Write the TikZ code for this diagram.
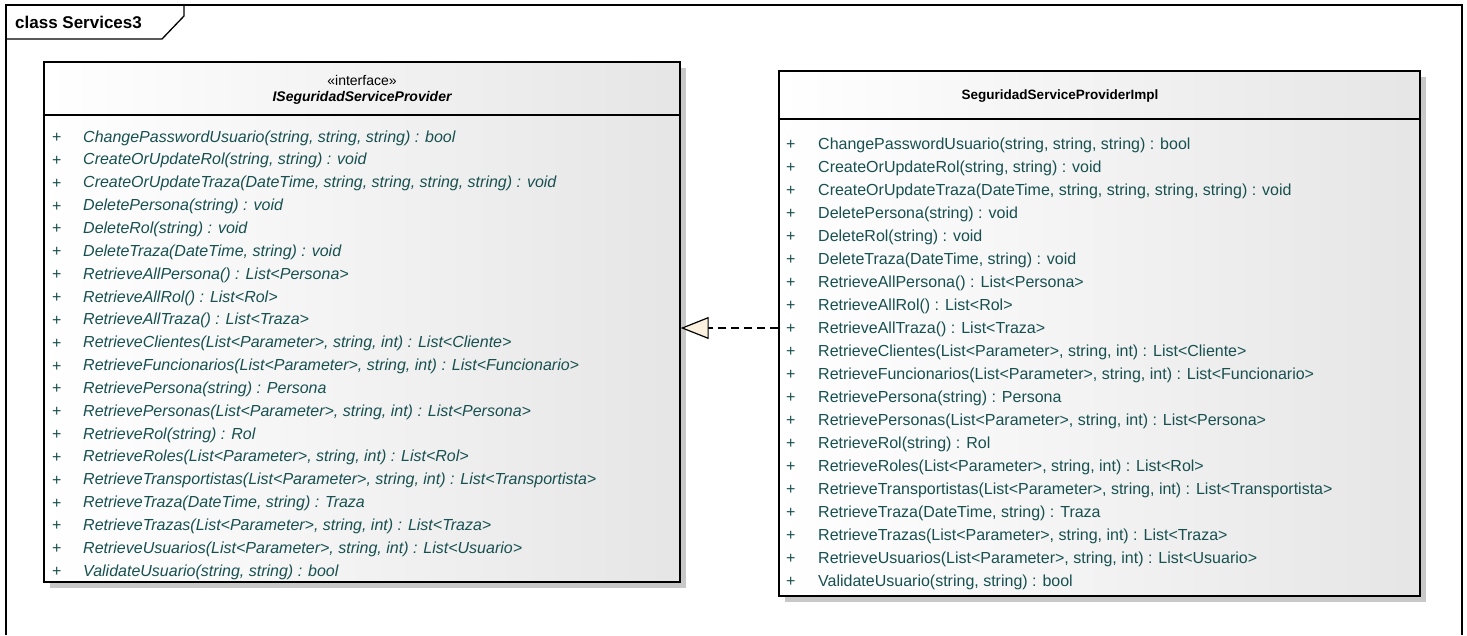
\documentclass[tikz,border=0pt]{standalone}
\usepackage{fontspec}
\setmainfont{Liberation Sans}
\usepackage{xcolor}
\usetikzlibrary{positioning, arrows.meta}

\definecolor{optext}{RGB}{24,80,80}
\definecolor{realizefill}{RGB}{251,241,222}
\definecolor{shadowgray}{RGB}{200,200,200}

\newcommand{\opslist}{%
  {ChangePasswordUsuario(string, string, string) : bool},
  {CreateOrUpdateRol(string, string) : void},
  {CreateOrUpdateTraza(DateTime, string, string, string, string) : void},
  {DeletePersona(string) : void},
  {DeleteRol(string) : void},
  {DeleteTraza(DateTime, string) : void},
  {RetrieveAllPersona() : List<Persona>},
  {RetrieveAllRol() : List<Rol>},
  {RetrieveAllTraza() : List<Traza>},
  {RetrieveClientes(List<Parameter>, string, int) : List<Cliente>},
  {RetrieveFuncionarios(List<Parameter>, string, int) : List<Funcionario>},
  {RetrievePersona(string) : Persona},
  {RetrievePersonas(List<Parameter>, string, int) : List<Persona>},
  {RetrieveRol(string) : Rol},
  {RetrieveRoles(List<Parameter>, string, int) : List<Rol>},
  {RetrieveTransportistas(List<Parameter>, string, int) : List<Transportista>},
  {RetrieveTraza(DateTime, string) : Traza},
  {RetrieveTrazas(List<Parameter>, string, int) : List<Traza>},
  {RetrieveUsuarios(List<Parameter>, string, int) : List<Usuario>},
  {ValidateUsuario(string, string) : bool}}

\begin{document}
\begin{tikzpicture}[x=1pt, y=-1pt, >=Stealth,
  classbox/.style={draw, line width=1.4pt, shading=axis, left color=white,
    right color=gray!20, inner sep=0pt},
  boxshadow/.style={fill=shadowgray},
  headtext/.style={inner sep=0pt, font=\fontsize{14}{16}\selectfont},
  optext/.style={inner sep=0pt, anchor=west, text=optext,
    font=\fontsize{16}{18}\selectfont},
  realizes/.style={draw, line width=1.2pt, dash pattern=on 8pt off 5pt,
    -{Triangle[length=28pt, width=22pt, fill=realizefill, line width=1.2pt]}}]

  \useasboundingbox (0,0) rectangle (1467,635);

  % diagram frame
  \draw[line width=1.3pt] (6,635) -- (6,5) -- (1462,5) -- (1462,635);
  \draw[line width=1.3pt] (6,39) -- (162,39) -- (184,16) -- (184,5);
  \node[headtext, anchor=west, font=\bfseries\fontsize{17}{20}\selectfont] (title) at (15,22) {class Services3};

  % interface
  \fill[boxshadow] (50,68) rectangle (686,588);
  \node[classbox, minimum width=636pt, minimum height=520pt] (iface) at (362,322) {};
  \coordinate (isep) at (0,115);
  \draw[line width=1.4pt] (iface.west |- isep) -- (iface.east |- isep);
  \node[headtext] (istereo) at (362,80) {«interface»};
  \node[headtext, font=\bfseries\itshape\fontsize{14}{16}\selectfont] (iname) at (362,98) {ISeguridadServiceProvider};
  \foreach \m [count=\i] in \opslist {
    \node[optext] (iplus\i) at (52,{138+22.84*(\i-1)}) {+};
    \node[optext, font=\itshape\fontsize{16}{18}\selectfont] (iop\i) at (83,{138+22.84*(\i-1)}) {\m};
  }

  % implementation
  \fill[boxshadow] (785,77) rectangle (1426,602);
  \node[classbox, minimum width=641pt, minimum height=525pt] (impl) at (1099.5,333.5) {};
  \coordinate (csep) at (0,119);
  \draw[line width=1.4pt] (impl.west |- csep) -- (impl.east |- csep);
  \node[headtext, font=\bfseries\fontsize{13.5}{16}\selectfont] (cname) at (1060,96) {SeguridadServiceProviderImpl};
  \foreach \m [count=\i] in \opslist {
    \node[optext] (cplus\i) at (786,{145+23*(\i-1)}) {+};
    \node[optext] (cop\i) at (818,{145+23*(\i-1)}) {\m};
  }

  % realization
  \coordinate (rely) at (0,328);
  \draw[realizes] (impl.west |- rely) -- (iface.east |- rely);
\end{tikzpicture}
\end{document}
